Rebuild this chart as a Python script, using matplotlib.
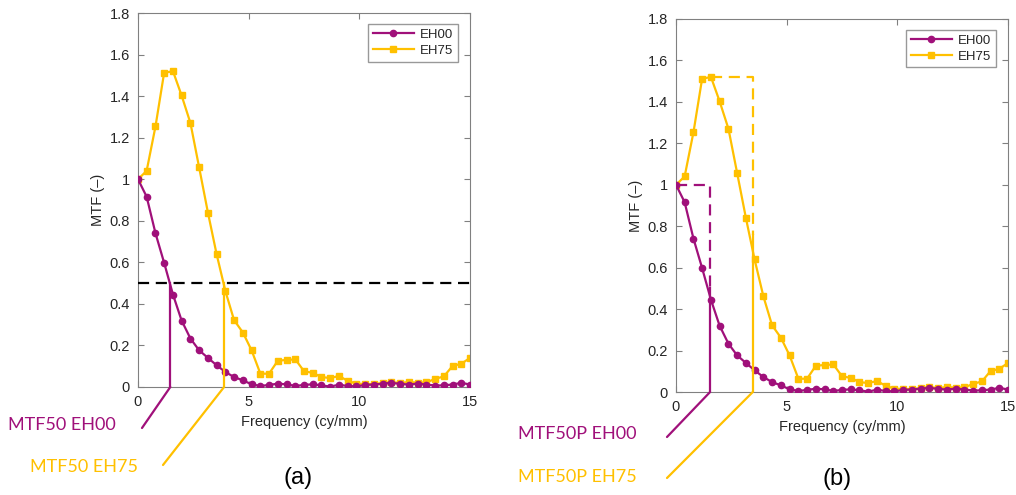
import numpy as np
import matplotlib.pyplot as plt

# spatial frequency (cy/mm)
freq = [0.00, 0.39, 0.79, 1.18, 1.58, 1.97, 2.37, 2.76, 3.16, 3.55,
        3.95, 4.34, 4.74, 5.13, 5.53, 5.92, 6.32, 6.71, 7.11, 7.50,
        7.89, 8.29, 8.68, 9.08, 9.47, 9.87, 10.26, 10.66, 11.05, 11.45,
        11.84, 12.24, 12.63, 13.03, 13.42, 13.82, 14.21, 14.61, 15.00]

mtf_eh00 = [1.000, 0.916, 0.740, 0.598, 0.445, 0.320, 0.233, 0.177, 0.140, 0.105,
            0.072, 0.048, 0.032, 0.013, 0.005, 0.010, 0.016, 0.013, 0.005, 0.010,
            0.013, 0.008, 0.002, 0.011, 0.005, 0.003, 0.010, 0.012, 0.016, 0.020,
            0.015, 0.012, 0.016, 0.012, 0.007, 0.008, 0.012, 0.020, 0.012]

mtf_eh75 = [1.000, 1.040, 1.254, 1.512, 1.520, 1.403, 1.270, 1.058, 0.839, 0.640,
            0.461, 0.322, 0.262, 0.177, 0.064, 0.064, 0.127, 0.130, 0.133, 0.076,
            0.068, 0.048, 0.043, 0.053, 0.030, 0.016, 0.014, 0.014, 0.019, 0.024,
            0.019, 0.024, 0.021, 0.022, 0.039, 0.051, 0.101, 0.112, 0.140]

# MTF50 (absolute 0.5) and MTF50P (half of peak) frequencies
mtf50 = {'EH00': 1.46, 'EH75': 3.89}
mtf50p = {'EH00': 1.54, 'EH75': 3.47}
peak = {'EH00': 1.0, 'EH75': 1.52}

purple = '#A0107A'
gold = '#FFC000'
W, H = 1016, 495

plt.rcParams['font.family'] = ['Liberation Sans', 'DejaVu Sans']

fig = plt.figure(figsize=(W / 100, H / 100), dpi=100)
axA = fig.add_axes([138 / W, 108 / H, 332 / W, 374 / H])
axB = fig.add_axes([676 / W, 103 / H, 332 / W, 373 / H])


def base(ax):
    ax.plot(freq, mtf_eh00, color=purple, lw=1.6, marker='o', ms=4.5, label='EH00', zorder=3)
    ax.plot(freq, mtf_eh75, color=gold, lw=1.6, marker='s', ms=4, label='EH75', zorder=2)
    ax.set_xlim(0, 15)
    ax.set_ylim(0, 1.8)
    ax.set_xticks([0, 5, 10, 15])
    ax.set_yticks(np.arange(0, 1.81, 0.2))
    ax.set_yticklabels(['0', '0.2', '0.4', '0.6', '0.8', '1', '1.2', '1.4', '1.6', '1.8'])
    for s in ax.spines.values():
        s.set_color('#808080')
    ax.tick_params(direction='in', top=True, right=True, length=4, color='#808080',
                   labelcolor='#262626', labelsize=10.5, pad=6)
    ax.set_xlabel('Frequency (cy/mm)', fontsize=10.5, color='#262626')
    ax.set_ylabel('MTF (–)', fontsize=10.5, color='#262626')
    ax.xaxis.set_label_coords(0.5, -0.075)
    ax.yaxis.set_label_coords(-0.10, 0.5)
    leg = ax.legend(loc='upper right', bbox_to_anchor=(0.964, 0.971), borderaxespad=0,
                    fancybox=False, edgecolor='#808080', fontsize=9.5, handlelength=3.1,
                    borderpad=0.35, labelspacing=0.3, handletextpad=0.5)
    leg.get_frame().set_linewidth(1.0)
    for t in leg.get_texts():
        t.set_color('#262626')


def leader(ax, x, end, color):
    ax.annotate('', xy=(x, 0), xycoords='data',
                xytext=(end[0] / W, 1 - end[1] / H), textcoords='figure fraction',
                arrowprops=dict(arrowstyle='-', color=color, lw=1.6, shrinkA=0, shrinkB=0),
                annotation_clip=False)


# (a) MTF50
base(axA)
axA.axhline(0.5, color='black', lw=1.6, ls=(0, (5, 3)), zorder=4)
axA.plot([mtf50['EH00']] * 2, [0, 0.5], color=purple, lw=1.6, zorder=4)
axA.plot([mtf50['EH75']] * 2, [0, 0.5], color=gold, lw=1.6, zorder=4)
leader(axA, mtf50['EH00'], (142, 428), purple)
leader(axA, mtf50['EH75'], (163, 465), gold)

# (b) MTF50P
base(axB)
for key, col in (('EH00', purple), ('EH75', gold)):
    xp, pk = mtf50p[key], peak[key]
    pk_x = freq[int(np.argmax(mtf_eh00 if key == 'EH00' else mtf_eh75))]
    axB.plot([pk_x, xp, xp], [pk, pk, pk / 2], color=col, lw=1.6, ls=(0, (5, 3)), zorder=4)
    axB.plot([xp, xp], [0, pk / 2], color=col, lw=1.6, zorder=4)
leader(axB, mtf50p['EH00'], (667, 437), purple)
leader(axB, mtf50p['EH75'], (667, 478), gold)

lab = dict(fontsize=13, family=['Lato', 'DejaVu Sans'], va='center', ha='left')
fig.text(8 / W, 1 - 425 / H, 'MTF50 EH00', color=purple, **lab)
fig.text(30 / W, 1 - 467 / H, 'MTF50 EH75', color=gold, **lab)
fig.text(518 / W, 1 - 434 / H, 'MTF50P EH00', color=purple, **lab)
fig.text(518 / W, 1 - 477 / H, 'MTF50P EH75', color=gold, **lab)

fig.text(298 / W, 1 - 478 / H, '(a)', fontsize=17, ha='center', va='center', color='black')
fig.text(837 / W, 1 - 479 / H, '(b)', fontsize=17, ha='center', va='center', color='black')

fig.savefig('out.png', dpi=100)
